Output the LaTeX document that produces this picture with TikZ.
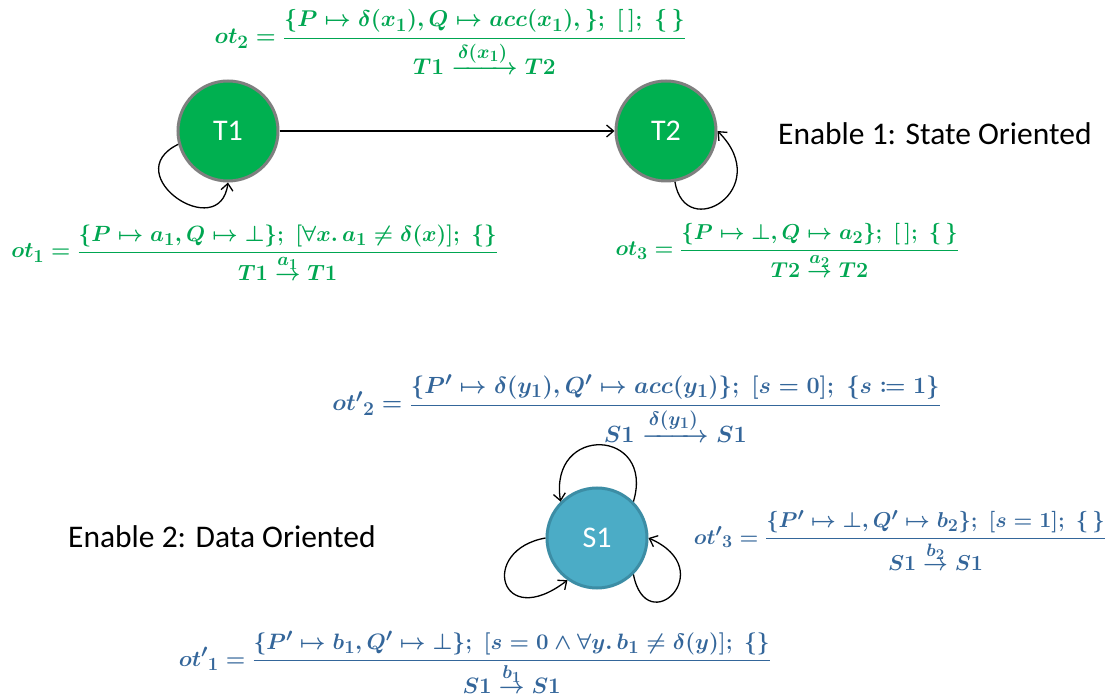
\documentclass[tikz,border=0pt]{standalone}
\usepackage[no-math]{fontspec}
\usepackage{amsmath,amssymb,mathtools}
\usepackage{tikz}
\usetikzlibrary{arrows.meta}
\newfontfamily\calibri{Carlito}
\definecolor{tgreen}{HTML}{00B050}
\definecolor{fgreen}{HTML}{00A651}
\definecolor{sblue}{HTML}{4BACC6}
\definecolor{sborder}{HTML}{3C8DA5}
\definecolor{fblue}{HTML}{34669A}
\definecolor{ringgray}{HTML}{7F7F7F}

\begin{document}
\begin{tikzpicture}[x=1pt,y=-1pt,
  state/.style={circle,minimum size=100pt,inner sep=0pt,line width=3pt,text=white,font=\fontsize{30}{36}\selectfont\calibri},
  edge/.style={line width=1.3pt,-{Straight Barb[length=7pt,width=12pt]}},
  formula/.style={anchor=base east,inner sep=0pt,transform shape,font=\fontsize{24.88}{30}\selectfont\boldmath},
  caption/.style={anchor=west,inner sep=0pt,font=\fontsize{31.5}{38}\selectfont\calibri}]
  \useasboundingbox (0,0) rectangle (1112,700);

  % States
  \node[state,fill=tgreen,draw=ringgray] (T1) at (228,131) {T1};
  \node[state,fill=tgreen,draw=ringgray] (T2) at (666,131) {T2};
  \node[state,fill=sblue,draw=sborder] (S1) at (597,538) {S1};

  % Transitions of enable 1
  \draw[edge] (T1) -- (T2);
  \draw[edge] (T1.195) .. controls +(-62,30) and +(-8,62) .. (T1.south);
  \draw[edge] (T2.280) .. controls +(10,62) and +(58,58) .. (T2.east);

  % Transitions of enable 2
  \draw[edge] (S1.45) .. controls +(22,-73) and +(-12,-78) .. (S1.135);
  \draw[edge] (S1.west) .. controls +(-67,12) and +(-68,52) .. (S1.235);
  \draw[edge] (S1.315) .. controls +(13,67) and +(73,32) .. (S1.east);

  % Labels
  \node[caption] (en1) at (778,134) {Enable 1: State Oriented};
  \node[caption] (en2) at (68,537) {Enable 2: Data Oriented};

  % Rules, green
  \node[formula,fgreen,scale=0.916] (ot2) at (686,44)
    {$ot_2 = \dfrac{\{P \mapsto \delta(x_1), Q \mapsto acc(x_1),\};\; [\,];\; \{\,\}}{T1 \xrightarrow{\delta(x_1)} T2}$};
  \node[formula,fgreen,scale=0.886] (ot1) at (498,258)
    {$ot_1 = \dfrac{\{P \mapsto a_1, Q \mapsto \bot\};\; [\forall x.\, a_1 \neq \delta(x)];\; \{\}}{T1 \overset{a_1}{\rightarrow} T1}$};
  \node[formula,fgreen,scale=0.867] (ot3) at (959,256)
    {$ot_3 = \dfrac{\{P \mapsto \bot, Q \mapsto a_2\};\; [\,];\; \{\,\}}{T2 \overset{a_2}{\rightarrow} T2}$};

  % Rules, blue
  \node[formula,fblue,scale=0.94] (otp2) at (941,411)
    {${ot'}_2 = \dfrac{\{P' \mapsto \delta(y_1), Q' \mapsto acc(y_1)\};\; [s = 0];\; \{s \coloneqq 1\}}{S1 \xrightarrow{\delta(y_1)} S1}$};
  \node[formula,fblue,scale=0.865] (otp3) at (1106,544)
    {${ot'}_3 = \dfrac{\{P' \mapsto \bot, Q' \mapsto b_2\};\; [s = 1];\; \{\,\}}{S1 \overset{b_2}{\rightarrow} S1}$};
  \node[formula,fblue,scale=0.895] (otp1) at (771,666)
    {${ot'}_1 = \dfrac{\{P' \mapsto b_1, Q' \mapsto \bot\};\; [s = 0 \wedge \forall y.\, b_1 \neq \delta(y)];\; \{\}}{S1 \overset{b_1}{\rightarrow} S1}$};
\end{tikzpicture}
\end{document}
